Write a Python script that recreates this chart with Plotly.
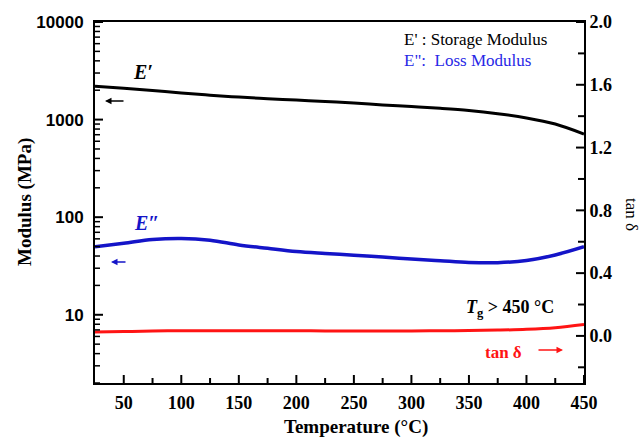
import math
import plotly.graph_objects as go

# ---- data ----
temperature = [25, 50, 75, 100, 125, 150, 175, 200, 225, 250, 275, 300, 325, 350, 375, 400, 425, 450]
storage_modulus = [2200, 2100, 1990, 1870, 1780, 1700, 1640, 1585, 1535, 1480, 1415, 1360, 1305, 1240, 1150, 1040, 900, 710]
loss_modulus = [49.8, 54, 59, 60.5, 58, 52, 48, 44.5, 42.5, 40.8, 39, 37.3, 35.8, 34.4, 34.2, 36, 41, 49.8]
tan_delta = [0.025, 0.028, 0.031, 0.033, 0.033, 0.033, 0.033, 0.033, 0.032, 0.032, 0.032, 0.032, 0.033, 0.034, 0.037, 0.042, 0.052, 0.072]

left_tickvals = [10, 100, 1000, 10000]
left_ticktext = ["10", "100", "1000", "10000"]
left_minor = [m * d for d in (1, 10, 100, 1000) for m in range(2, 10) if m * d >= 2]
x_ticks = [50, 100, 150, 200, 250, 300, 350, 400, 450]
x_minor = [75, 125, 175, 225, 275, 325, 375, 425]
y2_ticks = [0.0, 0.4, 0.8, 1.2, 1.6, 2.0]
y2_minor = [-0.2, 0.2, 0.6, 1.0, 1.4, 1.8]

BLACK = "#000000"
BLUE = "#1414c8"
RED = "#ff1414"
SERIF = "Liberation Serif"
SANS = "Liberation Sans"

Y_LOG_RANGE = [math.log10(2), 4]
Y2_RANGE = [-0.3, 2.0]
X_RANGE = [25, 450]

fig = go.Figure()
fig.add_trace(go.Scatter(x=temperature, y=storage_modulus, mode="lines",
                         line=dict(color=BLACK, width=3, shape="spline"), yaxis="y"))
fig.add_trace(go.Scatter(x=temperature, y=loss_modulus, mode="lines",
                         line=dict(color=BLUE, width=3.5, shape="spline"), yaxis="y"))
fig.add_trace(go.Scatter(x=temperature, y=tan_delta, mode="lines",
                         line=dict(color=RED, width=3, shape="spline"), yaxis="y2"))

L, R, T, B = 95, 584, 22, 383
W, H = 642, 437
PW, PH = R - L, B - T


def px(x):
    return (x - L) / PW


def py(y):
    return (B - y) / PH


ann = []


def text(x, y, s, size, color=BLACK, family=SERIF, angle=0, xanchor="center"):
    ann.append(dict(x=px(x), y=py(y), xref="paper", yref="paper", text=s, showarrow=False,
                    font=dict(size=size, color=color, family=family), textangle=angle,
                    xanchor=xanchor, yanchor="middle"))


def arrow(xh, y, dx, color):
    ann.append(dict(x=px(xh), y=py(y), xref="paper", yref="paper", text="", showarrow=True,
                    ax=dx, ay=0, arrowhead=2, arrowsize=1, arrowwidth=1.3, arrowcolor=color))


text(356, 427, "<b>Temperature (°C)</b>", 19)
text(25, 202, "<b>Modulus (MPa)</b>", 19, angle=-90)
text(632, 214, "tan δ", 17, angle=90)
text(402, 39, "E' : Storage Modulus", 17, xanchor="left")
text(402, 61, "E\":  Loss Modulus", 17, color="#2828e6", xanchor="left")
text(143, 72, "<b><i>E′</i></b>", 20)
text(146, 223, "<b><i>E″</i></b>", 20, color=BLUE)
text(510, 308, "<b><i>T</i><sub>g</sub> > 450 °C</b>", 18)
text(503, 352, "<b>tan δ</b>", 17, color=RED)
arrow(105, 101, 20, BLACK)
arrow(111, 262, 16, BLUE)
arrow(563, 350, -26, RED)

# ---- tick marks (inside), drawn as short line shapes at the axis tick values ----
shapes = []


def log_frac(v):
    return (math.log10(v) - Y_LOG_RANGE[0]) / (Y_LOG_RANGE[1] - Y_LOG_RANGE[0])


for vals, ln, w in ((x_ticks, 8, 2), (x_minor, 5, 2)):
    for v in vals:
        shapes.append(dict(type="line", xref="x", x0=v, x1=v, yref="paper",
                           y0=0, y1=ln / PH, line=dict(color=BLACK, width=w)))
for vals, ln, w in ((left_tickvals, 8, 2), (left_minor, 5, 1.5)):
    for v in vals:
        f = log_frac(v)
        if 0 <= f <= 1:
            shapes.append(dict(type="line", yref="paper", y0=f, y1=f, xref="paper",
                               x0=0, x1=ln / PW, line=dict(color=BLACK, width=w)))
for vals, ln, w in ((y2_ticks, 8, 2), (y2_minor, 6, 2)):
    for v in vals:
        shapes.append(dict(type="line", yref="y2", y0=v, y1=v, xref="paper",
                           x0=1, x1=1 - ln / PW, line=dict(color=BLACK, width=w)))

common = dict(showgrid=False, zeroline=False, ticks="")

fig.update_layout(
    width=W, height=H,
    margin=dict(l=L, r=W - R, t=T, b=H - B),
    paper_bgcolor="white", plot_bgcolor="white",
    showlegend=False,
    annotations=ann,
    shapes=shapes,
    xaxis=dict(range=X_RANGE, tickvals=x_ticks, showline=True, linewidth=2, linecolor=BLACK,
               mirror=True, ticklabelstandoff=2,
               tickfont=dict(family=SERIF, size=18, color=BLACK, weight="bold"), **common),
    yaxis=dict(type="log", range=Y_LOG_RANGE, tickvals=left_tickvals, ticktext=left_ticktext,
               showline=True, linewidth=2, linecolor=BLACK, ticklabelstandoff=6,
               tickfont=dict(family=SANS, size=17, color=BLACK, weight="bold"), **common),
    yaxis2=dict(overlaying="y", side="right", anchor="x", range=Y2_RANGE, tickvals=y2_ticks,
                tickformat=".1f", showline=True, linewidth=2, linecolor=BLACK,
                ticklabelstandoff=0,
                tickfont=dict(family=SERIF, size=18, color=BLACK, weight="bold"), **common),
)

fig.write_html("out.html")
